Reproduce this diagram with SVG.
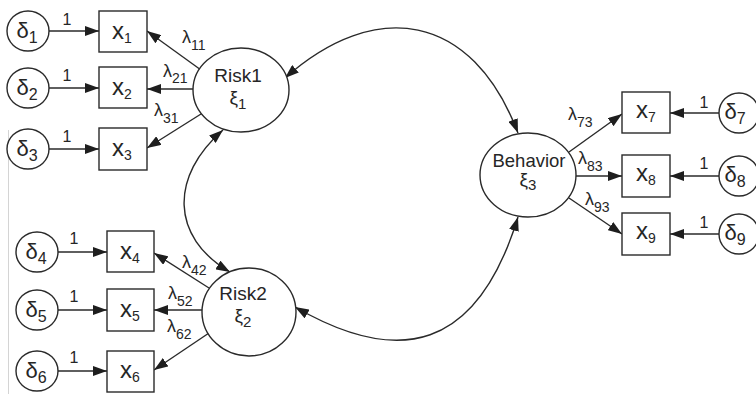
<svg xmlns="http://www.w3.org/2000/svg" width="756" height="394" viewBox="0 0 756 394">
  <style>
    .node { fill: #fff; stroke: #2a2a2a; stroke-width: 1.4; }
    .conn { fill: none; stroke: #2a2a2a; stroke-width: 1.4; }
    .txt { font-family: "Liberation Sans", Arial, sans-serif; fill: #262626; }
    .var { font-size: 24px; }
    .err { font-size: 22px; }
    .lat { font-size: 19px; }
    .lam { font-size: 18px; }
    .one { font-size: 16px; }
  </style>
  <defs>
    <marker id="arrow" viewBox="0 0 14 10" refX="14" refY="5" markerWidth="14" markerHeight="10" markerUnits="userSpaceOnUse" orient="auto-start-reverse">
      <path d="M0,0 L14,5 L0,10 Z" fill="#1e1e1e"/>
    </marker>
  </defs>

  <rect width="756" height="394" fill="#fff"/>
  <!-- faint frame edge at the left -->
  <line x1="8.5" y1="130" x2="8.5" y2="394" stroke="#d4d4d4" stroke-width="1"/>

  <!-- connectors -->
  <g id="connectors">
    <!-- errors to indicators -->
    <line class="conn" x1="49" y1="31" x2="99" y2="31" marker-end="url(#arrow)"/>
    <line class="conn" x1="49" y1="88" x2="99" y2="88" marker-end="url(#arrow)"/>
    <line class="conn" x1="49" y1="149" x2="99" y2="149" marker-end="url(#arrow)"/>
    <line class="conn" x1="58" y1="252" x2="107" y2="252" marker-end="url(#arrow)"/>
    <line class="conn" x1="58" y1="310" x2="107" y2="310" marker-end="url(#arrow)"/>
    <line class="conn" x1="58" y1="371" x2="107" y2="371" marker-end="url(#arrow)"/>
    <line class="conn" x1="719" y1="113" x2="670" y2="113" marker-end="url(#arrow)"/>
    <line class="conn" x1="719" y1="176" x2="670" y2="176" marker-end="url(#arrow)"/>
    <line class="conn" x1="719" y1="234" x2="670" y2="234" marker-end="url(#arrow)"/>

    <!-- loadings -->
    <line class="conn" x1="201" y1="70" x2="147" y2="31" marker-end="url(#arrow)"/>
    <line class="conn" x1="193" y1="89" x2="147" y2="89" marker-end="url(#arrow)"/>
    <line class="conn" x1="201" y1="114" x2="147" y2="148" marker-end="url(#arrow)"/>
    <line class="conn" x1="209" y1="288" x2="154" y2="253" marker-end="url(#arrow)"/>
    <line class="conn" x1="202" y1="310" x2="154" y2="310" marker-end="url(#arrow)"/>
    <line class="conn" x1="209" y1="333" x2="154" y2="370" marker-end="url(#arrow)"/>
    <line class="conn" x1="569" y1="152" x2="622" y2="114" marker-end="url(#arrow)"/>
    <line class="conn" x1="576" y1="176" x2="622" y2="176" marker-end="url(#arrow)"/>
    <line class="conn" x1="569" y1="198" x2="622" y2="234" marker-end="url(#arrow)"/>

    <!-- covariances between latent factors -->
    <path class="conn" d="M285,78 C375,-2 472,12 518,133" marker-start="url(#arrow)" marker-end="url(#arrow)"/>
    <path class="conn" d="M295,307 C399,367 477,351 518,217" marker-start="url(#arrow)" marker-end="url(#arrow)"/>
    <path class="conn" d="M223,130 C170,176 170,237 230,272" marker-start="url(#arrow)" marker-end="url(#arrow)"/>

    <!-- fixed loadings of the errors -->
    <text class="txt one" x="67" y="25" text-anchor="middle">1</text>
    <text class="txt one" x="67" y="81" text-anchor="middle">1</text>
    <text class="txt one" x="67" y="142" text-anchor="middle">1</text>
    <text class="txt one" x="74" y="244" text-anchor="middle">1</text>
    <text class="txt one" x="74" y="302" text-anchor="middle">1</text>
    <text class="txt one" x="74" y="363" text-anchor="middle">1</text>
    <text class="txt one" x="704" y="108" text-anchor="middle">1</text>
    <text class="txt one" x="704" y="169" text-anchor="middle">1</text>
    <text class="txt one" x="704" y="228" text-anchor="middle">1</text>

    <!-- loading labels -->
    <text class="txt lam" x="182" y="43">λ<tspan dy="7" font-size="14">11</tspan></text>
    <text class="txt lam" x="163" y="77">λ<tspan dy="6" font-size="14">21</tspan></text>
    <text class="txt lam" x="154" y="116">λ<tspan dy="7" font-size="14">31</tspan></text>
    <text class="txt lam" x="182" y="268">λ<tspan dy="7" font-size="14">42</tspan></text>
    <text class="txt lam" x="168" y="299">λ<tspan dy="7" font-size="14">52</tspan></text>
    <text class="txt lam" x="167" y="332">λ<tspan dy="7" font-size="14">62</tspan></text>
    <text class="txt lam" x="568" y="120">λ<tspan dy="7" font-size="14">73</tspan></text>
    <text class="txt lam" x="578" y="164">λ<tspan dy="7" font-size="14">83</tspan></text>
    <text class="txt lam" x="585" y="205">λ<tspan dy="7" font-size="14">93</tspan></text>
  </g>

  <!-- error terms -->
  <g id="delta1"><ellipse class="node" cx="28" cy="31" rx="21" ry="20"/><text class="txt err" x="27" y="38" text-anchor="middle">δ<tspan dy="5" font-size="16">1</tspan></text></g>
  <g id="delta2"><ellipse class="node" cx="28" cy="88" rx="21" ry="20"/><text class="txt err" x="27" y="95" text-anchor="middle">δ<tspan dy="5" font-size="16">2</tspan></text></g>
  <g id="delta3"><ellipse class="node" cx="28" cy="149" rx="21" ry="20"/><text class="txt err" x="27" y="156" text-anchor="middle">δ<tspan dy="5" font-size="16">3</tspan></text></g>
  <g id="delta4"><ellipse class="node" cx="37" cy="252" rx="21" ry="20"/><text class="txt err" x="36" y="259" text-anchor="middle">δ<tspan dy="5" font-size="16">4</tspan></text></g>
  <g id="delta5"><ellipse class="node" cx="37" cy="310" rx="21" ry="20"/><text class="txt err" x="36" y="317" text-anchor="middle">δ<tspan dy="5" font-size="16">5</tspan></text></g>
  <g id="delta6"><ellipse class="node" cx="37" cy="371" rx="21" ry="20"/><text class="txt err" x="36" y="378" text-anchor="middle">δ<tspan dy="5" font-size="16">6</tspan></text></g>
  <g id="delta7"><ellipse class="node" cx="739" cy="113" rx="20" ry="20"/><text class="txt err" x="735" y="119" text-anchor="middle">δ<tspan dy="5" font-size="16">7</tspan></text></g>
  <g id="delta8"><ellipse class="node" cx="739" cy="176" rx="20" ry="20"/><text class="txt err" x="735" y="182" text-anchor="middle">δ<tspan dy="5" font-size="16">8</tspan></text></g>
  <g id="delta9"><ellipse class="node" cx="739" cy="234" rx="20" ry="20"/><text class="txt err" x="735" y="240" text-anchor="middle">δ<tspan dy="5" font-size="16">9</tspan></text></g>

  <!-- observed indicators -->
  <g id="x1"><rect class="node" x="99" y="11" width="48" height="41"/><text class="txt var" x="122" y="39" text-anchor="middle">x<tspan dy="4" font-size="14">1</tspan></text></g>
  <g id="x2"><rect class="node" x="99" y="67" width="48" height="41"/><text class="txt var" x="122" y="95" text-anchor="middle">x<tspan dy="4" font-size="14">2</tspan></text></g>
  <g id="x3"><rect class="node" x="99" y="128" width="48" height="42"/><text class="txt var" x="122" y="156" text-anchor="middle">x<tspan dy="4" font-size="14">3</tspan></text></g>
  <g id="x4"><rect class="node" x="107" y="231" width="47" height="41"/><text class="txt var" x="130" y="259" text-anchor="middle">x<tspan dy="4" font-size="14">4</tspan></text></g>
  <g id="x5"><rect class="node" x="107" y="289" width="47" height="42"/><text class="txt var" x="130" y="317" text-anchor="middle">x<tspan dy="4" font-size="14">5</tspan></text></g>
  <g id="x6"><rect class="node" x="107" y="351" width="47" height="41"/><text class="txt var" x="130" y="378" text-anchor="middle">x<tspan dy="4" font-size="14">6</tspan></text></g>
  <g id="x7"><rect class="node" x="622" y="92" width="48" height="41"/><text class="txt var" x="646" y="118" text-anchor="middle">x<tspan dy="4" font-size="14">7</tspan></text></g>
  <g id="x8"><rect class="node" x="622" y="155" width="48" height="42"/><text class="txt var" x="646" y="181" text-anchor="middle">x<tspan dy="4" font-size="14">8</tspan></text></g>
  <g id="x9"><rect class="node" x="622" y="213" width="48" height="42"/><text class="txt var" x="646" y="239" text-anchor="middle">x<tspan dy="4" font-size="14">9</tspan></text></g>

  <!-- latent factors -->
  <g id="risk1">
    <ellipse class="node" cx="241" cy="90" rx="48" ry="42"/>
    <text class="txt lat" x="238" y="82" text-anchor="middle">Risk1</text>
    <text class="txt lat" x="238" y="104" text-anchor="middle">ξ<tspan dy="5" font-size="15">1</tspan></text>
  </g>
  <g id="risk2">
    <ellipse class="node" cx="249" cy="312" rx="47" ry="44"/>
    <text class="txt lat" x="243" y="300" text-anchor="middle">Risk2</text>
    <text class="txt lat" x="243" y="322" text-anchor="middle">ξ<tspan dy="5" font-size="15">2</tspan></text>
  </g>
  <g id="behavior">
    <ellipse class="node" cx="528" cy="175" rx="48" ry="42"/>
    <text class="txt" font-size="18.5" x="529" y="167" text-anchor="middle">Behavior</text>
    <text class="txt lat" x="528" y="186" text-anchor="middle">ξ<tspan dy="4" font-size="15">3</tspan></text>
  </g>
</svg>
